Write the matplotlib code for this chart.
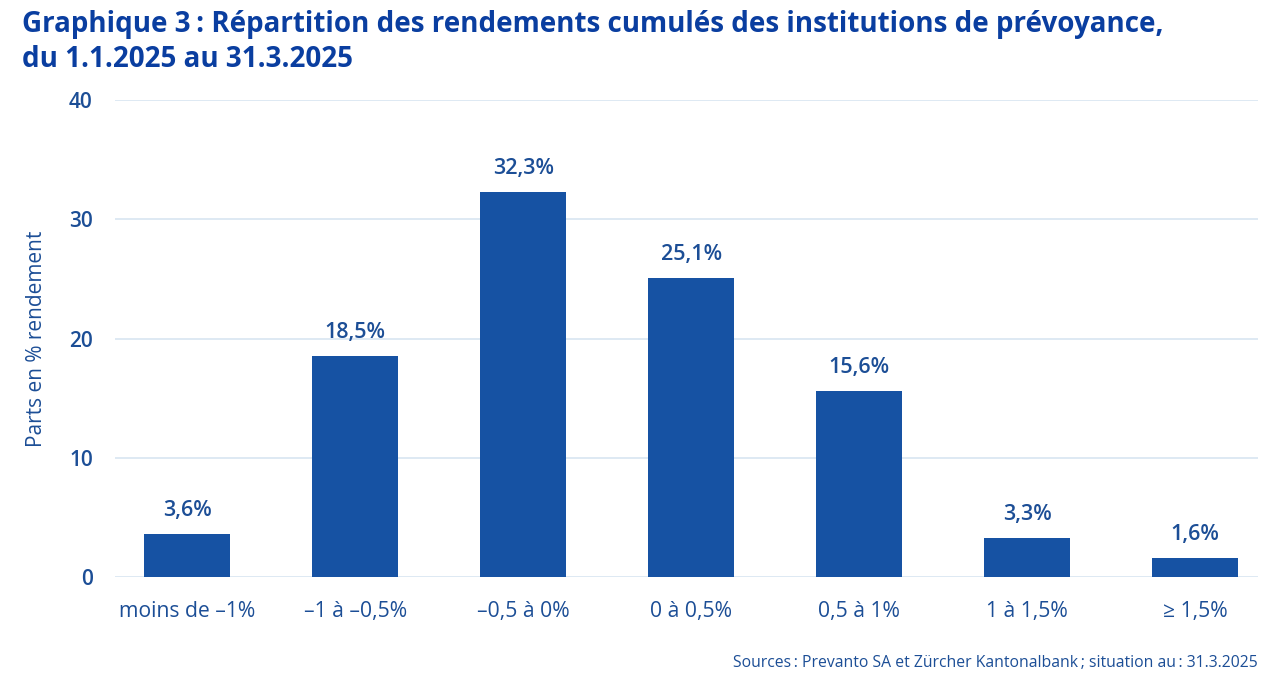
import matplotlib
matplotlib.use("Agg")
import matplotlib.pyplot as plt

categories = ["moins de \u20131%", "\u20131 à \u20130,5%", "\u20130,5 à 0%", "0 à 0,5%",
              "0,5 à 1%", "1 à 1,5%", "\u2265 1,5%"]
values = [3.6, 18.5, 32.3, 25.1, 15.6, 3.3, 1.6]
yticks = [0, 10, 20, 30, 40]

bar_color = "#1652a3"
text_color = "#1c4e96"
title_color = "#0a3ea0"
grid_color = "#d8e5f1"

plt.rcParams['font.family'] = ['Open Sans', 'DejaVu Sans']

fig = plt.figure(figsize=(12.85, 6.86), dpi=100)
ax = fig.add_axes([0.0895, 0.1589, 0.8895, 0.6953])

x = list(range(len(categories)))
ax.bar(x, values, width=0.51, color=bar_color, zorder=3)
for xi, v in zip(x, values):
    ax.text(xi, v + 1.1, f"{v:.1f}%".replace(".", ","), ha="center", va="bottom",
            fontsize=15.5, fontweight="semibold", color=text_color)

ax.set_xlim(-0.43, 6.375)
ax.set_ylim(0, 40)
ax.set_yticks(yticks)
ax.set_xticks(x)
ax.set_xticklabels(categories, fontsize=15.2, color=text_color)
ax.tick_params(axis="x", length=0, pad=17)
ax.tick_params(axis="y", length=0, pad=16, labelsize=15, labelcolor=text_color)
for lab in ax.get_yticklabels():
    lab.set_fontweight("semibold")
ax.grid(axis="y", color=grid_color, linewidth=1.2, zorder=0)
for s in ax.spines.values():
    s.set_visible(False)

ax.set_ylabel("Parts en % rendement", fontsize=15, color=text_color, labelpad=16)

# title lines placed by baseline
fig.text(0.017, 1 - 32 / 686, "Graphique 3\u2009: Répartition des rendements cumulés des institutions de prévoyance,",
         ha="left", va="baseline", fontsize=20, fontweight="bold", color=title_color)
fig.text(0.017, 1 - 67 / 686, "du 1.1.2025 au 31.3.2025",
         ha="left", va="baseline", fontsize=20, fontweight="bold", color=title_color)
fig.text(0.979, 0.034, "Sources\u2009: Prevanto SA et Zürcher Kantonalbank\u2009; situation au\u2009: 31.3.2025",
         ha="right", va="center", fontsize=11.3, color=text_color)

fig.savefig("out.png", dpi=100)
